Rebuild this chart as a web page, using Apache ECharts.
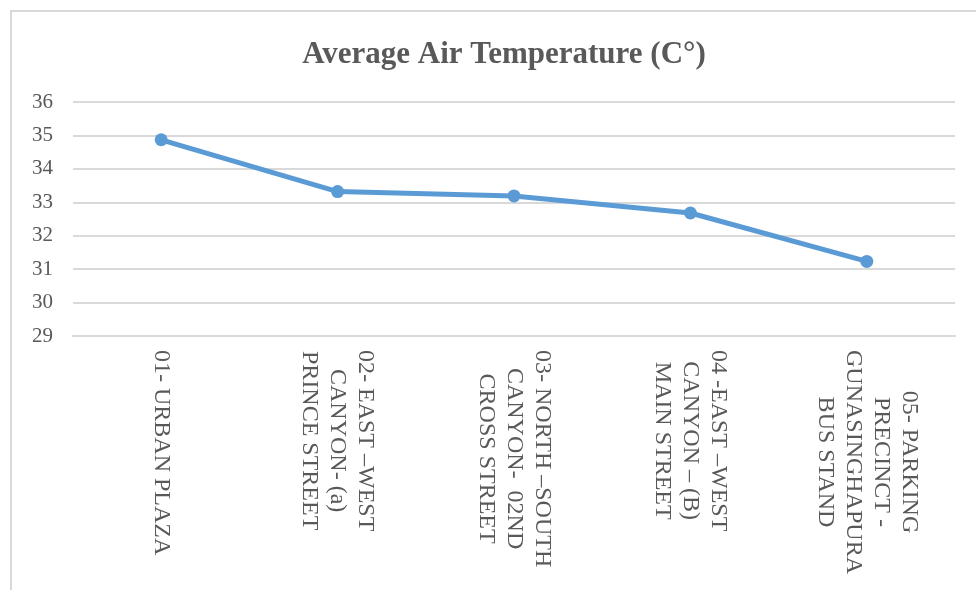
<!DOCTYPE html>
<html>
<head>
<meta charset="utf-8">
<script src="https://cdn.jsdelivr.net/npm/echarts@6/dist/echarts.min.js"></script>
<style>
html,body{margin:0;padding:0;background:#fff;}
#c{width:976px;height:590px;}
</style>
</head>
<body>
<div id="c"></div>
<script>
var categories = [
  "01- URBAN PLAZA",
  "02- EAST \u2013WEST\nCANYON- (a)\nPRINCE STREET",
  "03- NORTH \u2013SOUTH\nCANYON-  02ND\nCROSS STREET",
  "04 -EAST \u2013WEST\nCANYON \u2013 (B)\nMAIN STREET",
  "05- PARKING\nPRECINCT -\nGUNASINGHAPURA\nBUS STAND"
];
var temperatures = [34.87, 33.32, 33.19, 32.68, 31.23];
var titleText = "Average Air Temperature (C\u00B0)";

var chart = echarts.init(document.getElementById('c'), null, {renderer: 'canvas'});
var serif = '"Liberation Serif", "Times New Roman", serif';
var grey = '#595959';
chart.setOption({
  animation: false,
  backgroundColor: '#fff',
  graphic: [{
    type: 'rect',
    shape: {x: 11, y: 11, width: 1100, height: 1000},
    style: {fill: 'none', stroke: '#d9d9d9', lineWidth: 2},
    silent: true
  }],
  title: {
    text: titleText,
    left: 499,
    top: 34,
    textAlign: 'center',
    textStyle: {fontFamily: serif, fontWeight: 'bold', fontSize: 31, color: grey}
  },
  grid: {left: 73, right: 21, top: 102, bottom: 254, containLabel: false},
  xAxis: {
    type: 'category',
    data: categories,
    boundaryGap: true,
    axisLine: {show: true, lineStyle: {color: '#d9d9d9', width: 2}},
    axisTick: {show: false},
    splitLine: {show: false},
    axisLabel: {
      interval: 0,
      rotate: -90,
      margin: 14,
      color: grey,
      fontFamily: serif,
      fontSize: 24,
      formatter: function (v) {
        return v.split('\n').map(function (s) { return '{c|' + s + '}'; }).join('\n');
      },
      rich: {
        c: {align: 'center', fontFamily: serif, fontSize: 24, lineHeight: 28, color: grey}
      }
    }
  },
  yAxis: {
    type: 'value',
    min: 29,
    max: 36,
    interval: 1,
    axisLine: {show: false},
    axisTick: {show: false},
    splitLine: {show: true, lineStyle: {color: '#d9d9d9', width: 2}},
    axisLabel: {margin: 20, color: grey, fontFamily: serif, fontSize: 21}
  },
  series: [{
    type: 'line',
    data: temperatures,
    symbol: 'circle',
    symbolSize: 13,
    lineStyle: {color: '#5B9BD5', width: 5},
    itemStyle: {color: '#5B9BD5'}
  }]
});
</script>
</body>
</html>
